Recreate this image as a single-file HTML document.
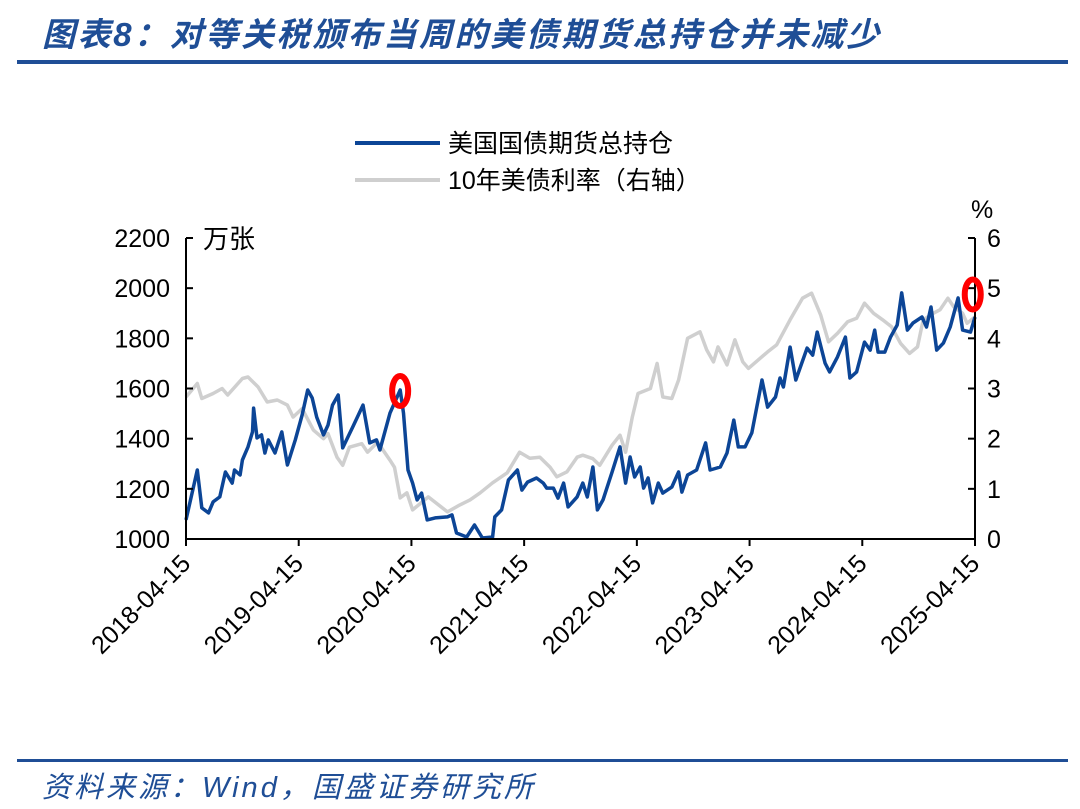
<!DOCTYPE html>
<html><head><meta charset="utf-8">
<style>
body{margin:0;background:#fff;width:1080px;height:809px;overflow:hidden;position:relative;font-family:"Liberation Sans","Noto Sans CJK SC",sans-serif}
.title{position:absolute;left:42px;top:8px;font-size:33px;font-weight:bold;font-style:italic;color:#1f4e96;letter-spacing:2.6px;white-space:nowrap}
.rule{position:absolute;left:17px;width:1051px;background:#1f4e96}
.src{position:absolute;left:42px;top:764px;font-size:29px;font-style:italic;color:#1f4e96;letter-spacing:3px;white-space:nowrap}
svg{position:absolute;left:0;top:0}
</style></head><body>
<div class="title">图表8：对等关税颁布当周的美债期货总持仓并未减少</div>
<div class="rule" style="top:60px;height:4px"></div>
<div class="rule" style="top:759px;height:3px"></div>
<div class="src">资料来源：Wind，国盛证券研究所</div>
<svg id="chart" width="1080" height="809"></svg>
<script>
const xTickLabels=["2018-04-15","2019-04-15","2020-04-15","2021-04-15","2022-04-15","2023-04-15","2024-04-15","2025-04-15"];
const leftTicks=[1000,1200,1400,1600,1800,2000,2200];
const rightTicks=[0,1,2,3,4,5,6];
// years since 2018-04-15
const blueT=[0,.10,.14,.20,.24,.30,.35,.41,.43,.48,.50,.55,.59,.60,.63,.67,.70,.73,.79,.85,.90,.97,1.03,1.08,1.12,1.16,1.22,1.26,1.30,1.35,1.39,1.48,1.57,1.63,1.69,1.72,1.81,1.90,1.93,1.97,2.01,2.05,2.09,2.14,2.21,2.32,2.36,2.40,2.49,2.56,2.63,2.72,2.74,2.80,2.86,2.94,2.98,3.03,3.11,3.17,3.20,3.26,3.30,3.35,3.39,3.47,3.52,3.56,3.61,3.65,3.70,3.78,3.85,3.90,3.94,3.98,4.03,4.06,4.10,4.14,4.19,4.23,4.31,4.37,4.40,4.45,4.53,4.61,4.65,4.74,4.80,4.86,4.90,4.96,5.02,5.11,5.16,5.23,5.27,5.30,5.36,5.41,5.51,5.56,5.60,5.67,5.71,5.78,5.85,5.89,5.95,6.02,6.07,6.11,6.14,6.20,6.25,6.31,6.35,6.40,6.45,6.53,6.57,6.61,6.66,6.72,6.78,6.85,6.89,6.96,7.00];
const blueV=[1076,1275,1124,1104,1148,1168,1267,1223,1275,1255,1315,1367,1427,1522,1403,1415,1343,1395,1343,1427,1295,1395,1494,1594,1562,1486,1415,1454,1534,1574,1363,1447,1534,1383,1395,1355,1502,1594,1502,1275,1223,1156,1183,1076,1084,1088,1096,1024,1008,1056,1004,1008,1088,1116,1235,1275,1195,1227,1243,1223,1203,1203,1163,1223,1128,1168,1223,1168,1287,1116,1156,1267,1367,1223,1327,1247,1287,1203,1243,1144,1223,1183,1207,1267,1187,1255,1275,1383,1275,1287,1343,1474,1367,1367,1423,1634,1526,1566,1642,1606,1765,1634,1761,1733,1825,1701,1666,1726,1805,1642,1666,1785,1753,1833,1745,1745,1805,1853,1981,1833,1861,1885,1845,1925,1753,1781,1845,1961,1833,1825,1885];
const grayT=[0,.10,.14,.24,.32,.37,.50,.55,.64,.72,.81,.90,.95,1.03,1.13,1.22,1.26,1.34,1.39,1.45,1.56,1.61,1.70,1.81,1.85,1.90,1.96,2.01,2.15,2.32,2.43,2.52,2.61,2.72,2.85,2.96,3.05,3.14,3.23,3.29,3.38,3.47,3.52,3.61,3.67,3.78,3.85,3.90,3.96,4.01,4.12,4.18,4.23,4.31,4.37,4.45,4.56,4.62,4.68,4.72,4.80,4.87,4.94,4.99,5.16,5.24,5.36,5.47,5.55,5.63,5.70,5.78,5.87,5.95,6.02,6.10,6.18,6.26,6.34,6.42,6.49,6.54,6.63,6.69,6.76,6.81,6.89,6.93,7.00];
const grayV=[2.83,3.1,2.8,2.9,3.0,2.87,3.2,3.23,3.03,2.73,2.77,2.67,2.43,2.6,2.17,2.0,2.1,1.63,1.47,1.83,1.9,1.73,1.93,1.57,1.43,.82,.92,.58,.84,.54,.68,.78,.92,1.12,1.32,1.73,1.61,1.63,1.43,1.24,1.34,1.63,1.67,1.6,1.47,1.87,2.07,1.73,2.43,2.9,3.0,3.5,2.83,2.8,3.17,4.0,4.13,3.77,3.53,3.83,3.47,3.97,3.53,3.4,3.73,3.87,4.37,4.8,4.9,4.47,3.93,4.1,4.33,4.4,4.7,4.5,4.37,4.23,3.9,3.7,3.83,4.37,4.5,4.57,4.8,4.63,4.5,4.3,4.43];
const markT=[1.90,6.98];
const markV=[1590,1975];

const NS="http://www.w3.org/2000/svg";
const svg=document.getElementById('chart');
const X0=186,X1=975,Y0=539,Y1=238;
const xs=t=>X0+t*(X1-X0)/7;
const yl=v=>Y0-(v-1000)*(Y0-Y1)/1200;
const yr=v=>Y0-v*(Y0-Y1)/6;
function mk(tag,attrs){const e=document.createElementNS(NS,tag);for(const k in attrs)e.setAttribute(k,attrs[k]);svg.appendChild(e);return e;}
function txt(s,attrs){const e=mk('text',attrs);e.textContent=s;return e;}

let d=grayT.map((t,i)=>(i?'L':'M')+xs(t).toFixed(1)+','+yr(grayV[i]).toFixed(1)).join('');
let g=mk('path',{d:d,fill:'none',stroke:'#cfcfcf','stroke-width':3.5,'stroke-linejoin':'round'});


d=blueT.map((t,i)=>(i?'L':'M')+xs(t).toFixed(1)+','+yl(blueV[i]).toFixed(1)).join('');
let b=mk('path',{d:d,fill:'none',stroke:'#0c4596','stroke-width':3.5,'stroke-linejoin':'round'});



let a=mk('line',{x1:X0,y1:Y1,x2:X0,y2:Y0,stroke:'#000','stroke-width':2});


a=mk('line',{x1:X1,y1:Y1,x2:X1,y2:Y0,stroke:'#000','stroke-width':2});


a=mk('line',{x1:X0,y1:Y0,x2:X1,y2:Y0,stroke:'#000','stroke-width':2});


leftTicks.forEach(v=>{
  mk('line',{x1:X0,y1:yl(v),x2:X0+7,y2:yl(v),stroke:'#000','stroke-width':2});
  let t=txt(v,{x:X0-16,y:yl(v)+9,'text-anchor':'end','font-size':25,fill:'#000'});
  
  
});
rightTicks.forEach(v=>{
  mk('line',{x1:X1-7,y1:yr(v),x2:X1,y2:yr(v),stroke:'#000','stroke-width':2});
  let t=txt(v,{x:X1+12,y:yr(v)+9,'text-anchor':'start','font-size':25,fill:'#000'});
  
  
});
xTickLabels.forEach((s,i)=>{
  const x=xs(i);
  mk('line',{x1:x,y1:Y0,x2:x,y2:Y0+7,stroke:'#000','stroke-width':2});
  let t=txt(s,{x:x+6,y:Y0+26,'text-anchor':'end','font-size':25,fill:'#000',transform:`rotate(-45 ${x+6} ${Y0+26})`});
  
  
});
let u=txt('万张',{x:203,y:248,'font-size':26,fill:'#000'});


u=txt('%',{x:971,y:218,'font-size':25,fill:'#000'});



markT.forEach((t,i)=>{
  let e=mk('ellipse',{cx:xs(t),cy:yl(markV[i]),rx:8,ry:15,fill:'none',stroke:'#ff0000','stroke-width':6});
  
  
});

let l=mk('line',{x1:355,y1:143,x2:440,y2:143,stroke:'#0c4596','stroke-width':4});


l=txt('美国国债期货总持仓',{x:448,y:152,'font-size':25,fill:'#000'});


l=mk('line',{x1:355,y1:180,x2:440,y2:180,stroke:'#cfcfcf','stroke-width':4});


l=txt('10年美债利率（右轴）',{x:448,y:189,'font-size':25,fill:'#000'});


</script>
</body></html>
